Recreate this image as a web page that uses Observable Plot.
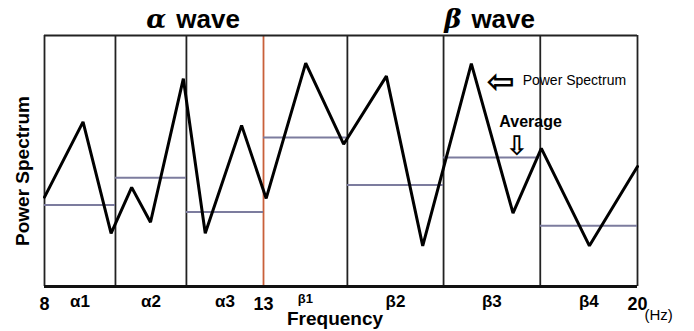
<!DOCTYPE html>
<html><head><meta charset="utf-8">
<script src="https://cdn.jsdelivr.net/npm/d3@7"></script>
<script src="https://cdn.jsdelivr.net/npm/@observablehq/plot@0.6"></script>
<style>body{margin:0;background:#fff}</style>
</head><body><div id="chart"></div>
<script>
// Power spectrum vertices (frequency in Hz, relative power 0–100)
const freqs = [8, 8.88, 9.52, 9.99, 10.42, 11.17, 11.67, 12.5, 13.05, 13.79, 14.5, 15.3, 15.98, 16.89, 17.67, 18.2, 19.1, 20];
const power = [35.6, 65.6, 21.2, 39.5, 25.6, 82.8, 21.2, 64.2, 35.1, 89.0, 56.7, 83.8, 16.2, 88.8, 29.2, 55.0, 16.2, 47.8];
// Frequency bands and their averages
const bandNames = ["α1", "α2", "α3", "β1", "β2", "β3", "β4"];
const bandEdges = [8, 9.62, 11.24, 13, 14.57, 16.37, 18.18, 20];
const bandAverages = [32.5, 43.3, 29.7, 59.4, 40.4, 51.4, 24.2];
const tickFreqs = [8, 13, 20];
// Titles and annotations
const waveGreek = ["α", "β"];
const waveTitleFreqs = [10.85, 16.76];
const noteTexts = ["Power Spectrum", "Average"];
const noteFreqs = [17.85, 18.0];
const notePower = [82.1, 65.4];
const arrowGlyphs = ["⇦", "⇩"];
const arrowFreqs = [17.44, 17.74];
const arrowPower = [81.3, 56.0];

const spectrum = freqs.map((f, i) => ({f, p: power[i]}));
const bands = bandNames.map((name, i) => ({name, x1: bandEdges[i], x2: bandEdges[i + 1], avg: bandAverages[i], mid: (bandEdges[i] + bandEdges[i + 1]) / 2}));
const titles = waveGreek.map((g, i) => ({g, f: waveTitleFreqs[i]}));
const notes = noteTexts.map((t, i) => ({t, f: noteFreqs[i], p: notePower[i]}));
const arrows = arrowGlyphs.map((t, i) => ({t, f: arrowFreqs[i], p: arrowPower[i]}));
const boundary = 13;
// the β range is drawn wider per Hz than the α range
const betaStretch = 1.2198;
const warp = f => (f <= boundary ? f : boundary + (f - boundary) * betaStretch);

const sans = "Liberation Sans, Arial, sans-serif";
const smallLabel = "β1";

const chart = Plot.plot({
  width: 694,
  height: 331,
  marginLeft: 44,
  marginRight: 57,
  marginTop: 35,
  marginBottom: 45,
  style: {fontFamily: sans, background: "#fff", color: "#000"},
  x: {type: "linear", transform: warp, axis: null},
  y: {domain: [0, 100], axis: null},
  marks: [
    Plot.ruleX(bandEdges.filter(d => d !== boundary), {stroke: "#222", strokeWidth: 1.8}),
    Plot.ruleX([boundary], {stroke: "#c9603a", strokeWidth: 1.8}),
    Plot.ruleY([100], {stroke: "#222", strokeWidth: 1.8}),
    Plot.ruleY(bands, {x1: "x1", x2: "x2", y: "avg", stroke: "#7c7c9e", strokeWidth: 2}),
    Plot.ruleY([0], {stroke: "#111", strokeWidth: 3}),
    Plot.line(spectrum, {x: "f", y: "p", stroke: "#000", strokeWidth: 3, strokeLinejoin: "miter"}),
    // x tick labels through the (warped) x scale
    Plot.text(tickFreqs, {x: d => d, y: 0, text: d => String(d), lineAnchor: "top", dy: 11, fontSize: 18, fontWeight: "bold"}),
    Plot.text(bands.filter(d => d.name !== smallLabel), {x: "mid", y: 0, text: "name", lineAnchor: "top", dy: 8, fontSize: 17, fontWeight: "bold"}),
    Plot.text(bands.filter(d => d.name === smallLabel), {x: "mid", y: 0, text: "name", lineAnchor: "top", dy: 7, fontSize: 13, fontWeight: "bold"}),
    Plot.text(["(Hz)"], {x: 20, y: 0, textAnchor: "start", lineAnchor: "top", dx: 7, dy: 23, fontSize: 15}),
    Plot.text(["Frequency"], {frameAnchor: "bottom", lineAnchor: "top", dx: -6, dy: 25, fontSize: 19, fontWeight: "bold"}),
    Plot.text(["Power Spectrum"], {frameAnchor: "left", textAnchor: "middle", rotate: -90, dx: -22, dy: 10, fontSize: 19, fontWeight: "bold"}),
    Plot.text(titles, {x: "f", frameAnchor: "top", text: "g", textAnchor: "end", lineAnchor: "top", dx: -3, dy: -26, fontSize: 26, fontWeight: "bold", fontStyle: "italic", fontFamily: "DejaVu Serif, serif"}),
    Plot.text(titles, {x: "f", frameAnchor: "top", text: () => "wave", textAnchor: "start", lineAnchor: "top", dx: 7, dy: -26, fontSize: 26, fontWeight: "bold"}),
    Plot.text(notes.slice(0, 1), {x: "f", y: "p", text: "t", textAnchor: "start", fontSize: 14}),
    Plot.text(notes.slice(1), {x: "f", y: "p", text: "t", fontSize: 16, fontWeight: "bold"}),
    Plot.text(arrows.slice(0, 1), {x: "f", y: "p", text: "t", fontSize: 34, fontWeight: "bold", fontFamily: "DejaVu Sans, sans-serif"}),
    Plot.text(arrows.slice(1), {x: "f", y: "p", text: "t", fontSize: 27, fontWeight: "bold", fontFamily: "DejaVu Sans, sans-serif"})
  ]
});
document.getElementById("chart").appendChild(chart);
</script>
</body></html>
